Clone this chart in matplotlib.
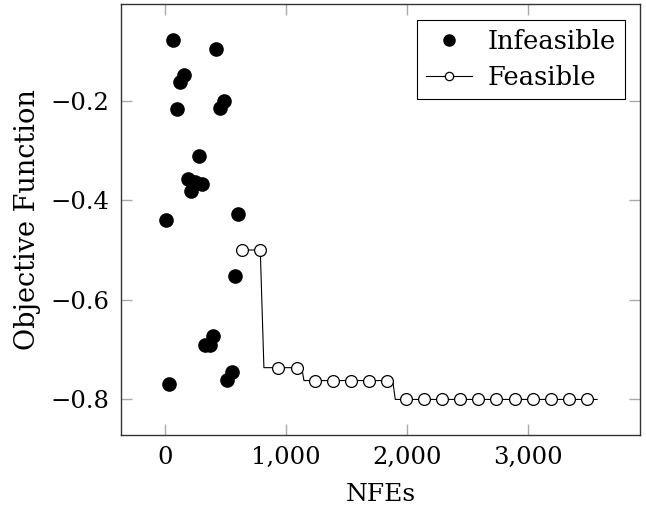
import numpy as np
import matplotlib
matplotlib.use('Agg')
import matplotlib.pyplot as plt
from matplotlib.lines import Line2D
from matplotlib.ticker import FuncFormatter

# infeasible evaluations (NFEs, objective)
inf_x = [66, 424, 157, 127, 490, 455, 99, 278, 187, 251, 309, 218, 8, 606,
         576, 399, 333, 372, 551, 515, 36]
inf_y = [-0.077, -0.096, -0.147, -0.162, -0.199, -0.214, -0.215, -0.311,
         -0.357, -0.363, -0.366, -0.381, -0.440, -0.428, -0.553, -0.673,
         -0.691, -0.691, -0.746, -0.762, -0.769]

# best feasible so far (step line)
feas_line_x = [638, 788, 818, 1130, 1149, 1882, 1903, 3570]
feas_line_y = [-0.500, -0.500, -0.737, -0.737, -0.763, -0.763, -0.801, -0.801]

# marks every 150 evaluations
feas_mark_x = [638, 788, 938, 1088, 1238, 1388, 1538, 1688, 1838, 1988, 2138,
               2288, 2438, 2588, 2738, 2888, 3038, 3188, 3338, 3488]
feas_mark_y = [-0.500, -0.500, -0.737, -0.737, -0.763, -0.763, -0.763, -0.763,
               -0.763, -0.801, -0.801, -0.801, -0.801, -0.801, -0.801, -0.801,
               -0.801, -0.801, -0.801, -0.801]

plt.rcParams['font.family'] = ['DejaVu Serif']
plt.rcParams['font.size'] = 17.5

fig = plt.figure(figsize=(6.46, 5.15), dpi=100)
ax = fig.add_axes([0.187, 0.155, 0.804, 0.837])

ax.plot(feas_line_x, feas_line_y, color='black', lw=0.8, zorder=2)
ax.plot(feas_mark_x, feas_mark_y, ls='none', marker='o', ms=8.5, mfc='white',
        mec='black', mew=0.9, zorder=3)
ax.plot(inf_x, inf_y, ls='none', marker='o', ms=9.5, color='black', zorder=4)

ax.set_xlim(-364, 3926)
ax.set_ylim(-0.873, -0.0046)
ax.set_xticks([0, 1000, 2000, 3000])
ax.set_yticks([-0.8, -0.6, -0.4, -0.2])
ax.xaxis.set_major_formatter(FuncFormatter(lambda v, p: '{:,.0f}'.format(v)))
ax.yaxis.set_major_formatter(FuncFormatter(lambda v, p: '\u2212{:.1f}'.format(abs(v))))
ax.tick_params(direction='in', length=8, width=1, color='#aaaaaa',
               top=True, right=True, pad=8)
for s in ax.spines.values():
    s.set_color('#333333')
    s.set_linewidth(1.0)

ax.set_xlabel('NFEs', fontsize=18, labelpad=10)
ax.set_ylabel('Objective Function', fontsize=19.5, labelpad=7)

h1 = Line2D([], [], ls='none', marker='o', ms=8, color='black')
h2 = Line2D([], [], color='black', lw=0.8, marker='o', ms=6, mfc='white',
            mec='black', mew=0.9)
leg = ax.legend([h1, h2], ['Infeasible', 'Feasible'], loc='upper right',
                fontsize=18.5, fancybox=False, edgecolor='black', framealpha=1,
                handlelength=1.8, borderpad=0.35, labelspacing=0.45,
                handletextpad=0.6, borderaxespad=0.6)
leg.get_frame().set_linewidth(0.8)

fig.savefig('out.png', dpi=100)
